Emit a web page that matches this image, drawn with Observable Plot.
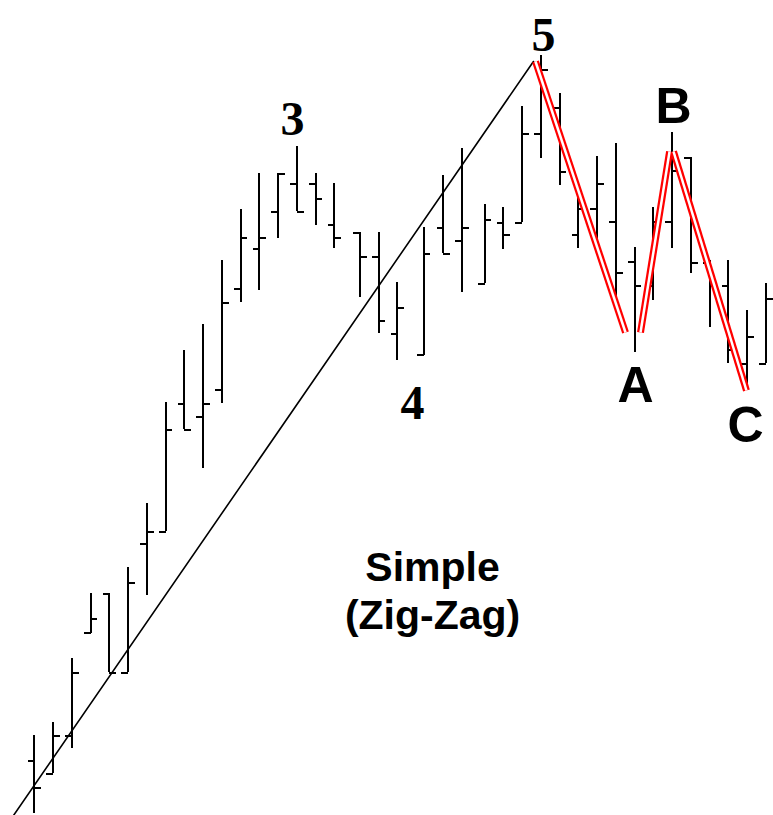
<!DOCTYPE html>
<html><head><meta charset="utf-8">
<script src="https://cdn.jsdelivr.net/npm/d3@7"></script>
<script src="https://cdn.jsdelivr.net/npm/@observablehq/plot@0.6"></script>
<style>html,body{margin:0;padding:0;background:#fff}</style>
</head><body><div id="chart"></div>
<script>
// OHLC bars (session index, prices in arbitrary units)
const days   = [0,1,2,3,4,5,6,7,8,9,10,11,12,13,14,15,16,17.35,18.35,19.35,20.75,21.8,22.8,24,25,26,27,28,29,30,31,32,33,34,35,36,37,38,39];
const opens  = [5.5,4.2,8.0,18.3,22.2,14.3,27.2,28.4,41.2,39.9,42.6,52.7,56.7,60.4,63.2,63.2,59.1,58.3,55.9,48.2,46.1,58.8,57.5,53.2,59.3,59.3,68.2,70.8,58.1,60.7,59.4,55.4,53.0,59.4,65.8,55.3,53.0,45.2,45.2];
const highs  = [8.0,9.3,15.7,22.2,22.2,24.8,31.2,41.3,46.5,49.1,55.5,60.6,64.2,64.2,66.9,64.2,63.2,58.3,58.3,53.3,58.8,64.0,66.7,61.1,60.8,70.9,76.0,72.2,61.8,65.9,67.2,56.8,60.8,68.3,65.8,55.5,55.5,50.5,53.2];
const lows   = [0.2,4.2,6.7,18.2,14.3,14.3,22.0,28.4,38.6,34.7,41.2,51.3,52.5,57.7,60.4,59.0,56.7,51.8,48.2,45.5,46.0,56.2,52.3,53.2,56.6,59.3,65.7,63.0,56.7,57.1,50.8,46.3,51.5,56.7,54.2,48.8,45.2,42.5,45.2];
const closes = [2.8,8.0,14.3,19.7,14.3,23.3,28.4,38.6,38.6,41.2,51.3,57.8,57.8,64.2,60.4,61.7,57.8,55.9,49.5,50.8,56.2,56.2,58.8,59.6,58.1,68.2,74.6,64.4,60.7,63.2,54.3,53.0,59.4,64.5,55.3,53.0,46.6,47.9,51.7];

// Trend line anchors
const trendDay   = [-1.12, 26.61];
const trendPrice = [0, 75.4];

// Zig-zag (5-A, A-B, B-C) legs
const zigLeg   = ["5A","5A","AB","AB","BC","BC"];
const zigDay   = [26.72, 31.52, 32.32, 33.87, 34.08, 37.97];
const zigPrice = [75.4, 48.3, 48.3, 66.4, 66.4, 42.5];

// Wave labels
const waveNums     = ["3","5","4"];
const waveNumDay   = [13.76, 27.15, 20.16];
const waveNumPrice = [68.1, 76.5, 39.7];
const waveLets     = ["A","B","C"];
const waveLetDay   = [32.05, 34.08, 37.92];
const waveLetPrice = [41.4, 69.3, 37.4];
const captionLines = ["Simple","(Zig-Zag)"];
const captionDay   = [21.23, 21.23];
const captionPrice = [23.5, 18.7];

const bars = days.map((d,i)=>({day:d, open:opens[i], high:highs[i], low:lows[i], close:closes[i]}));
const trend = trendDay.map((d,i)=>({day:d, price:trendPrice[i]}));
const zig = zigDay.map((d,i)=>({day:d, price:zigPrice[i], leg:zigLeg[i]}));
const nums = waveNums.map((t,i)=>({t, day:waveNumDay[i], price:waveNumPrice[i]}));
const lets = waveLets.map((t,i)=>({t, day:waveLetDay[i], price:waveLetPrice[i]}));
const cap = captionLines.map((t,i)=>({t, day:captionDay[i], price:captionPrice[i]}));
const tk = 0.36;

const chart = Plot.plot({
  width: 773, height: 815, margin: 0,
  style: {background: "#fff"},
  x: {domain: [-1.813, 39.413], axis: null},
  y: {domain: [0, 81.5], axis: null},
  marks: [
    Plot.ruleX(bars, {x: "day", y1: "low", y2: "high", stroke: "#000", strokeWidth: 2, shapeRendering: "crispEdges"}),
    Plot.link(bars, {x1: d => d.day - tk, x2: "day", y1: "open", y2: "open", stroke: "#000", strokeWidth: 2, shapeRendering: "crispEdges"}),
    Plot.link(bars, {x1: "day", x2: d => d.day + tk, y1: "close", y2: "close", stroke: "#000", strokeWidth: 2, shapeRendering: "crispEdges"}),
    Plot.line(trend, {x: "day", y: "price", stroke: "#000", strokeWidth: 1.6}),
    Plot.line(zig, {x: "day", y: "price", z: "leg", stroke: "#ff0000", strokeWidth: 7, strokeLinecap: "butt"}),
    Plot.line(zig, {x: "day", y: "price", z: "leg", stroke: "#fff", strokeWidth: 2.5, strokeLinecap: "butt"}),
    Plot.text(nums, {x: "day", y: "price", text: "t", lineAnchor: "bottom", fontFamily: "Liberation Serif", fontWeight: "bold", fontSize: 48, fill: "#000"}),
    Plot.text(lets, {x: "day", y: "price", text: "t", lineAnchor: "bottom", fontFamily: "Liberation Sans", fontWeight: "bold", fontSize: 50, fill: "#000"}),
    Plot.text(cap, {x: "day", y: "price", text: "t", lineAnchor: "bottom", fontFamily: "Liberation Sans", fontWeight: "bold", fontSize: 41, fill: "#000"})
  ]
});
document.getElementById("chart").appendChild(chart);
</script>
</body></html>
